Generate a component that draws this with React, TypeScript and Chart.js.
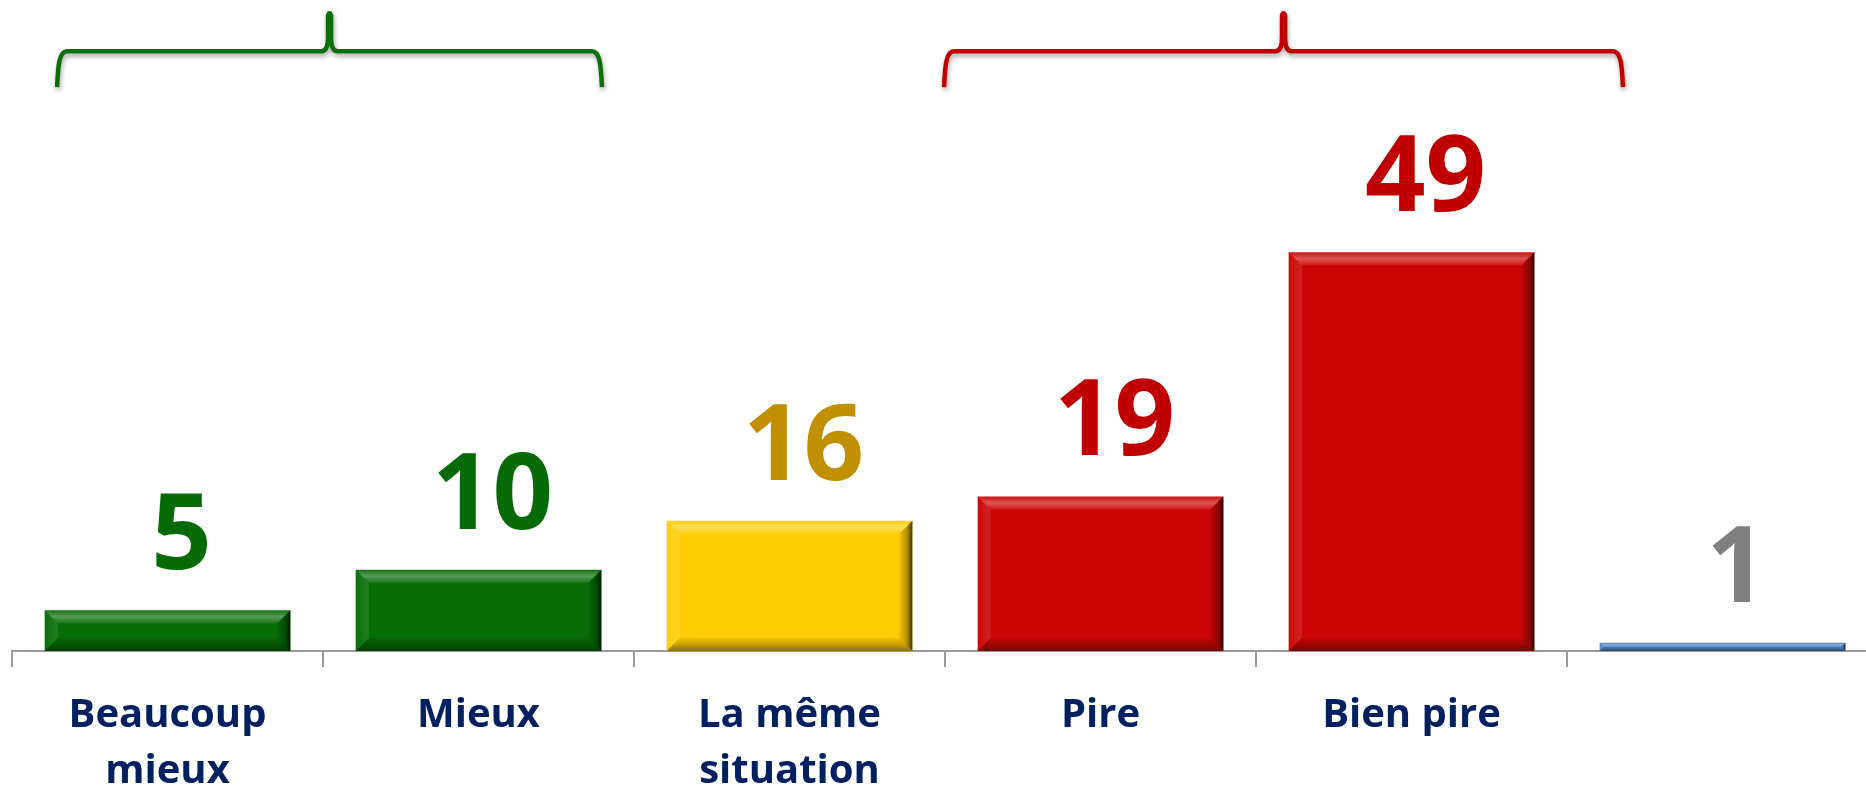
import React, { useEffect, useRef } from "react";
import { Chart, registerables } from "chart.js";

Chart.register(...registerables);

// ---- data ----
const categories: (string | string[])[] = [
  ["Beaucoup", "mieux"],
  "Mieux",
  ["La même", "situation"],
  "Pire",
  "Bien pire",
  "",
];
const values = [5, 10, 16, 19, 49, 1];
const barColors = ["#066c06", "#066c06", "#ffcc05", "#cb0505", "#cb0505", "#4f81bd"];
const labelColors = ["#066b06", "#066b06", "#c09000", "#c00000", "#c00000", "#808080"];

// braces (in category-index units on the x scale, y in value units)
const braceStarts = [-0.355, 2.497];
const braceEnds = [1.397, 4.68];
const braceColors = ["#0a6e0a", "#c00000"];
const braceTipValue = 78.5;
const braceLineValue = 73.7;
const braceEndValue = 69.3;

function drawBrace(
  ctx: CanvasRenderingContext2D,
  x0: number,
  x1: number,
  yTip: number,
  yLine: number,
  yEnd: number,
  color: string
) {
  const xm = (x0 + x1) / 2;
  ctx.save();
  ctx.strokeStyle = color;
  ctx.lineWidth = 4.5;
  ctx.lineJoin = "round";
  ctx.lineCap = "butt";
  ctx.shadowColor = "rgba(0,0,0,0.35)";
  ctx.shadowBlur = 5;
  ctx.shadowOffsetX = 1;
  ctx.shadowOffsetY = 3;
  ctx.beginPath();
  ctx.moveTo(x0, yEnd);
  ctx.bezierCurveTo(x0 + 1, yLine + 14, x0 + 2, yLine, x0 + 10, yLine);
  ctx.lineTo(xm - 8, yLine);
  ctx.bezierCurveTo(xm - 2, yLine, xm - 1.5, yLine - 8, xm - 1.5, yLine - 14);
  ctx.lineTo(xm - 1.5, yTip + 3);
  ctx.quadraticCurveTo(xm, yTip - 1, xm + 1.5, yTip + 3);
  ctx.lineTo(xm + 1.5, yLine - 14);
  ctx.bezierCurveTo(xm + 1.5, yLine - 8, xm + 2, yLine, xm + 8, yLine);
  ctx.lineTo(x1 - 10, yLine);
  ctx.bezierCurveTo(x1 - 2, yLine, x1 - 1, yLine + 14, x1, yEnd);
  ctx.stroke();
  ctx.restore();
}

const bevelPlugin = {
  id: "bevel",
  afterDatasetsDraw(chart: any) {
    const ctx: CanvasRenderingContext2D = chart.ctx;
    const meta = chart.getDatasetMeta(0);
    meta.data.forEach((bar: any) => {
      const { x, y, base, width } = bar.getProps(["x", "y", "base", "width"], true);
      const l = x - width / 2;
      const r = x + width / 2;
      const t = Math.min(y, base);
      const b = Math.max(y, base);
      const h = b - t;
      const bv = Math.min(13, h / 2, width / 2);
      ctx.save();
      // top
      let g = ctx.createLinearGradient(0, t, 0, t + bv);
      g.addColorStop(0, "rgba(255,255,255,0.05)");
      g.addColorStop(0.5, "rgba(255,255,255,0.32)");
      g.addColorStop(1, "rgba(255,255,255,0.08)");
      ctx.fillStyle = g;
      ctx.beginPath();
      ctx.moveTo(l, t);
      ctx.lineTo(r, t);
      ctx.lineTo(r - bv, t + bv);
      ctx.lineTo(l + bv, t + bv);
      ctx.closePath();
      ctx.fill();
      // bottom
      g = ctx.createLinearGradient(0, b - bv, 0, b);
      g.addColorStop(0, "rgba(0,0,0,0.05)");
      g.addColorStop(0.5, "rgba(0,0,0,0.22)");
      g.addColorStop(1, "rgba(0,0,0,0.45)");
      ctx.fillStyle = g;
      ctx.beginPath();
      ctx.moveTo(l, b);
      ctx.lineTo(r, b);
      ctx.lineTo(r - bv, b - bv);
      ctx.lineTo(l + bv, b - bv);
      ctx.closePath();
      ctx.fill();
      // right
      g = ctx.createLinearGradient(r - bv, 0, r, 0);
      g.addColorStop(0, "rgba(0,0,0,0.05)");
      g.addColorStop(0.6, "rgba(0,0,0,0.3)");
      g.addColorStop(1, "rgba(0,0,0,0.75)");
      ctx.fillStyle = g;
      ctx.beginPath();
      ctx.moveTo(r, t);
      ctx.lineTo(r, b);
      ctx.lineTo(r - bv, b - bv);
      ctx.lineTo(r - bv, t + bv);
      ctx.closePath();
      ctx.fill();
      // left
      g = ctx.createLinearGradient(l, 0, l + bv, 0);
      g.addColorStop(0, "rgba(255,255,255,0.02)");
      g.addColorStop(1, "rgba(255,255,255,0.12)");
      ctx.fillStyle = g;
      ctx.beginPath();
      ctx.moveTo(l, t);
      ctx.lineTo(l, b);
      ctx.lineTo(l + bv, b - bv);
      ctx.lineTo(l + bv, t + bv);
      ctx.closePath();
      ctx.fill();
      ctx.restore();
    });
  },
};

const labelsPlugin = {
  id: "valueLabels",
  afterDatasetsDraw(chart: any) {
    const ctx: CanvasRenderingContext2D = chart.ctx;
    const meta = chart.getDatasetMeta(0);
    ctx.save();
    ctx.font = "bold 106px 'Open Sans'";
    ctx.textAlign = "center";
    ctx.textBaseline = "alphabetic";
    meta.data.forEach((bar: any, i: number) => {
      ctx.fillStyle = labelColors[i];
      ctx.fillText(String(values[i]), bar.x + 14, bar.y - 41);
    });
    ctx.restore();
  },
};

const bracePlugin = {
  id: "braces",
  afterDraw(chart: any) {
    const ctx: CanvasRenderingContext2D = chart.ctx;
    const xs = chart.scales.x;
    const ys = chart.scales.y;
    braceStarts.forEach((s, i) => {
      drawBrace(
        ctx,
        xs.getPixelForValue(s),
        xs.getPixelForValue(braceEnds[i]),
        ys.getPixelForValue(braceTipValue),
        ys.getPixelForValue(braceLineValue),
        ys.getPixelForValue(braceEndValue),
        braceColors[i]
      );
    });
  },
};

export default function App() {
  const ref = useRef<HTMLCanvasElement | null>(null);
  useEffect(() => {
    if (!ref.current) return;
    const chart = new Chart(ref.current, {
      type: "bar",
      data: {
        labels: categories as any,
        datasets: [
          {
            data: values,
            backgroundColor: barColors,
            borderWidth: 0,
            categoryPercentage: 1,
            barPercentage: 0.79,
          },
        ],
      },
      options: {
        animation: false,
        responsive: false,
        maintainAspectRatio: false,
        layout: { padding: { left: 12, right: 0, top: 0, bottom: 0 } },
        plugins: { legend: { display: false }, tooltip: { enabled: false } },
        scales: {
          x: {
            grid: {
              display: true,
              drawOnChartArea: false,
              drawTicks: true,
              tickLength: 16,
              color: "#9a9a9a",
              lineWidth: 2,
              offset: true,
            },
            border: { display: true, color: "#9a9a9a", width: 2 },
            ticks: {
              color: "#002060",
              font: { family: "'Open Sans'", weight: "bold", size: 40, lineHeight: 1.4 },
              padding: 21,
              maxRotation: 0,
              minRotation: 0,
              autoSkip: false,
            },
            afterFit: (s: any) => {
              s.height = 137;
            },
          },
          y: { display: false, min: 0, max: 80 },
        },
      },
      plugins: [bevelPlugin, labelsPlugin, bracePlugin],
    });
    return () => chart.destroy();
  }, []);
  return (
    <div
      style={{
        position: "fixed",
        left: 0,
        top: 0,
        width: 1866,
        height: 788,
        overflow: "hidden",
        background: "#ffffff",
      }}
    >
      <canvas ref={ref} width={1878} height={788} style={{ width: 1878, height: 788, display: "block" }} />
    </div>
  );
}
